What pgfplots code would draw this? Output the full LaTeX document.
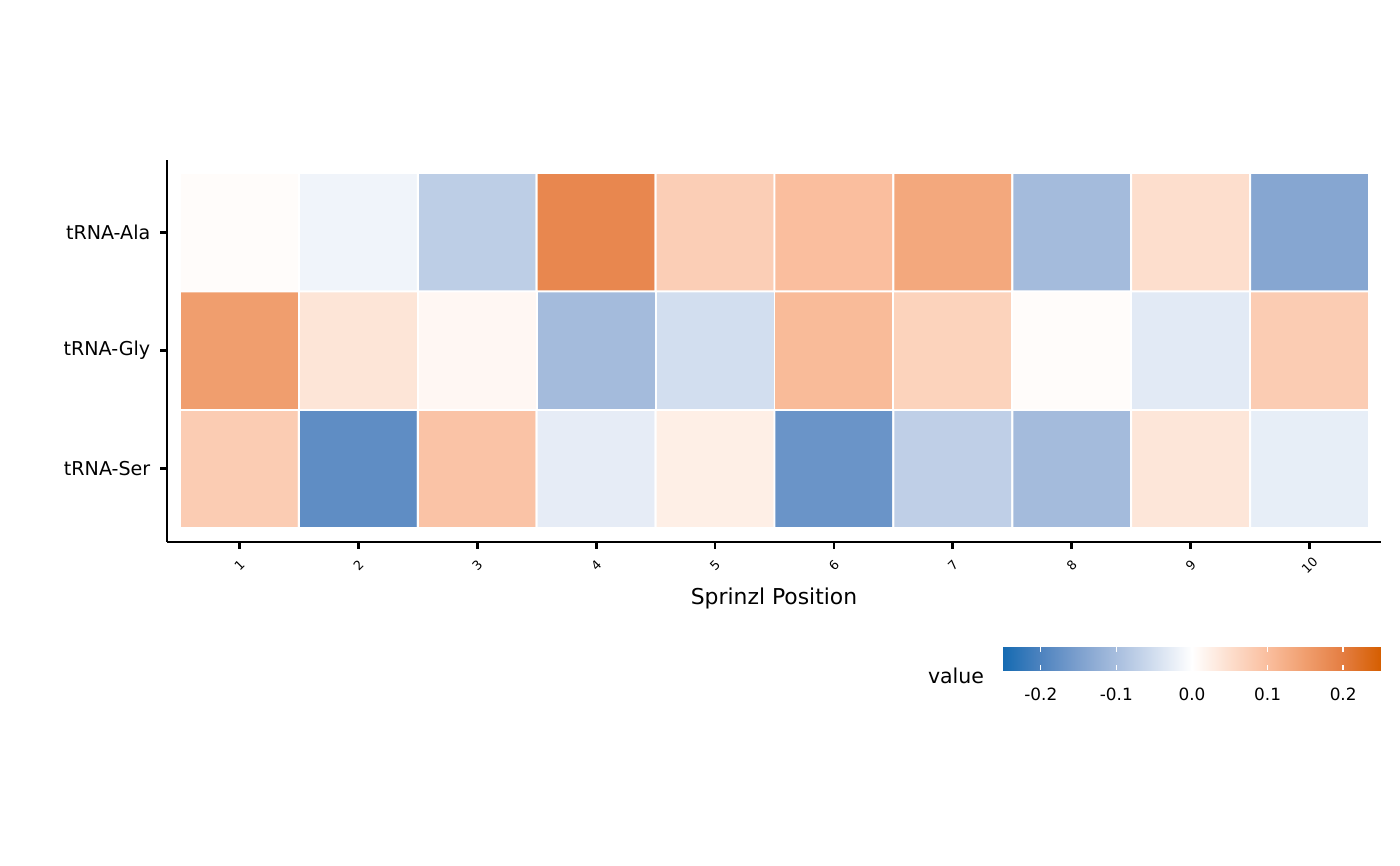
\documentclass[border=0pt]{standalone}
\usepackage{fontspec}
\setmainfont{DejaVu Sans}
\usepackage{pgfplots}
\pgfplotsset{compat=1.18}
\begin{document}
\begin{tikzpicture}
\useasboundingbox (0,0) rectangle (504bp,311.76bp);
\begin{axis}[
  at={(60.12bp,116.64bp)}, anchor=south west,
  scale only axis, width=437.04bp, height=137.52bp,
  xmin=0.3907, xmax=10.601, ymin=0.3817, ymax=3.61,
  axis x line*=bottom, axis y line*=left,
  axis line style={line width=1bp, black, -},
  xtick={1,...,10}, ytick={1,2,3},
  yticklabels={tRNA-Ser,tRNA-Gly,tRNA-Ala},
  tick align=outside, major tick length=2.5bp,
  tick style={black, line width=1bp},
  xticklabel style={yshift=-6bp, rotate=45, anchor=center, font=\fontsize{4.6}{5}\selectfont},
  yticklabel style={font=\fontsize{6.9}{8}\selectfont},
  /pgf/number format/assume math mode=true,
  xlabel={Sprinzl Position},
  xlabel style={font=\fontsize{7.9}{9}\selectfont, at={(axis description cs:0.5,-0.1466)}, anchor=center},
  colormap={divog}{rgb255=(21,107,178) rgb255=(78,131,191) rgb255=(125,160,206) rgb255=(168,190,222) rgb255=(210,222,239) rgb255=(255,255,255) rgb255=(253,222,205) rgb255=(250,190,158) rgb255=(240,158,110) rgb255=(228,125,65) rgb255=(213,94,0)},
  point meta min=-0.25, point meta max=0.25,
  colorbar horizontal,
  colorbar style={
    at={(0.6886,-0.2749)}, anchor=north west,
    scale only axis, width=136.08bp, height=8.28bp,
    axis line style={draw=none},
    xtick={-0.2,-0.1,0,0.1,0.2},
    xtick pos=both, xticklabel pos=lower,
    tick align=inside, major tick length=1.8bp,
    xtick style={white, line width=0.5bp},
    xticklabel style={font=\fontsize{6.1}{7}\selectfont, yshift=-3bp, /pgf/number format/.cd, assume math mode=true, fixed, fixed zerofill, precision=1},
  },
]
\addplot[matrix plot*, mesh/cols=10, point meta=explicit, shader=faceted, faceted color=white, line width=0.7bp] table[meta=c] {
x y c
1 1 0.078
2 1 -0.182
3 1 0.092
4 1 -0.028
5 1 0.025
6 1 -0.17
7 1 -0.073
8 1 -0.105
9 1 0.038
10 1 -0.026
1 2 0.15
2 2 0.04
3 2 0.012
4 2 -0.105
5 2 -0.05
6 2 0.105
7 2 0.068
8 2 0.005
9 2 -0.032
10 2 0.078
1 3 0.005
2 3 -0.016
3 3 -0.075
4 3 0.185
5 3 0.075
6 3 0.1
7 3 0.135
8 3 -0.105
9 3 0.05
10 3 -0.14
};
\end{axis}
\node[font=\fontsize{7.4}{8}\selectfont, anchor=base] at (344.16bp,65.52bp) {value};
\end{tikzpicture}
\end{document}
